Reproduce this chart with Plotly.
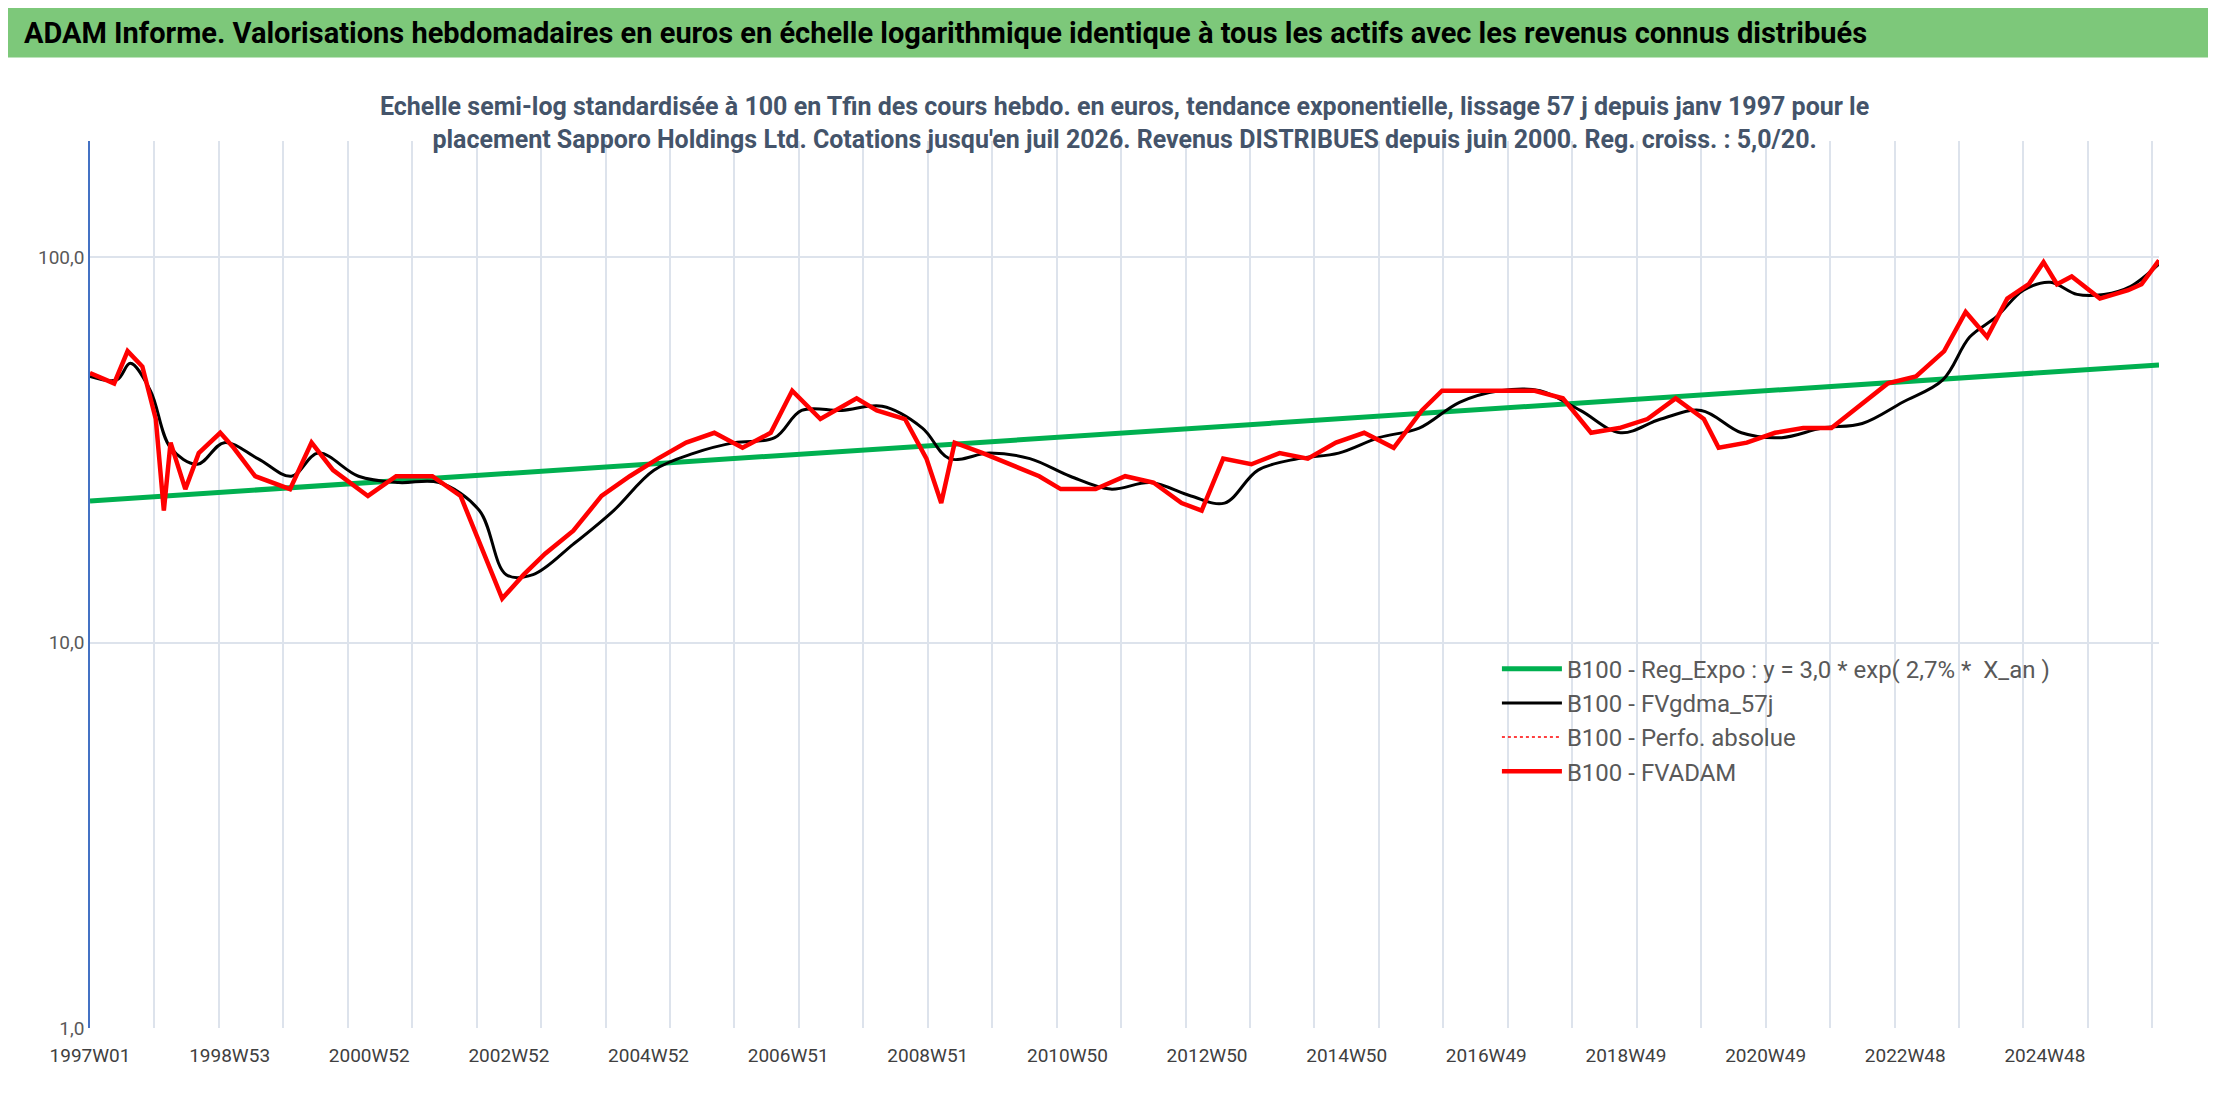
import plotly.graph_objs as go

# week index since 1997W01 and values (base 100 at end)
weeks = [0, 18, 28, 39, 49, 55, 60, 71, 81, 97, 107, 123, 149, 165, 181, 207, 228, 255, 276, 297,
         307, 323, 339, 360, 381, 402, 423, 444, 465, 486, 507, 523, 544, 571, 586, 607, 623, 634, 644, 665,
         686, 707, 723, 749, 771, 792, 813, 828, 844, 865, 886, 907, 928, 949, 971, 992, 1007, 1023, 1044, 1076,
         1097, 1118, 1139, 1160, 1181, 1202, 1213, 1234, 1255, 1276, 1297, 1318, 1339, 1360, 1381, 1397, 1413, 1428, 1444, 1455,
         1465, 1476, 1497, 1518, 1528, 1541]
fvadam = [50, 47, 57, 52, 38, 22, 33, 25, 31, 35, 32, 27, 25, 33, 28, 24, 27, 27, 24, 16,
          13, 15, 17, 19.5, 24, 27, 30, 33, 35, 32, 35, 45, 38, 43, 40, 38, 30, 23, 33, 31,
          29, 27, 25, 25, 27, 26, 23, 22, 30, 29, 31, 30, 33, 35, 32, 40, 45, 45, 45, 45,
          43, 35, 36, 38, 43, 38, 32, 33, 35, 36, 36, 41, 47, 49, 57, 72, 62, 78, 85, 97,
          85, 89, 78, 82, 85, 98]

weeks_smooth = [0, 20, 30, 45, 60, 80, 100, 125, 150, 170, 200, 230, 260, 290, 310, 330, 360, 390, 420, 450,
                480, 510, 530, 560, 590, 620, 640, 670, 700, 730, 760, 790, 820, 845, 870, 900, 930, 960, 990, 1020,
                1050, 1080, 1110, 1140, 1170, 1200, 1230, 1260, 1290, 1320, 1350, 1380, 1400, 1420, 1440, 1460, 1480, 1500, 1520, 1541]
fvgdma = [49, 48, 53, 45, 32, 29, 33, 30, 27, 31, 27, 26, 26, 22, 15, 15, 18, 22, 28, 31,
          33, 34, 40, 40, 41, 36, 30, 31, 30, 27, 25, 26, 24, 23, 28, 30, 31, 34, 36, 42,
          45, 45, 40, 35, 38, 40, 35, 34, 36, 37, 42, 48, 62, 70, 82, 86, 80, 80, 84, 96]

reg_weeks = [0, 1541]
reg_expo = [23.3, 52.5]

tick_weeks = [0, 104, 208, 312, 416, 520, 624, 728, 832, 936, 1040, 1144, 1248, 1352, 1456]
tick_labels = ['1997W01', '1998W53', '2000W52', '2002W52', '2004W52', '2006W51', '2008W51', '2010W50',
               '2012W50', '2014W50', '2016W49', '2018W49', '2020W49', '2022W48', '2024W48']

font = 'Roboto, sans-serif'

data = [
    go.Scatter(x=reg_weeks, y=reg_expo, mode='lines', line=dict(color='#00B050', width=5),
               name='B100 - Reg_Expo : y = 3,0 * exp( 2,7% *  X_an )'),
    go.Scatter(x=weeks_smooth, y=fvgdma, mode='lines', line=dict(color='black', width=3, shape='spline'),
               name='B100 - FVgdma_57j'),
    go.Scatter(x=weeks, y=fvadam, mode='lines', line=dict(color='#FF0000', width=1.5, dash='dot'),
               name='B100 - Perfo. absolue'),
    go.Scatter(x=weeks, y=fvadam, mode='lines', line=dict(color='#FF0000', width=4.5),
               name='B100 - FVADAM'),
]

layout = go.Layout(
    width=2216, height=1102,
    paper_bgcolor='white', plot_bgcolor='white',
    font=dict(family=font, color='#595959'),
    margin=dict(l=82, r=65, t=133, b=82),
    xaxis=dict(range=[0, 1541], tickvals=tick_weeks, ticktext=tick_labels, showgrid=False,
               tickfont=dict(size=19, color='#404040'), zeroline=False, ticks='', ticklabelstandoff=14,
               minor=dict(tick0=0, dtick=48, showgrid=True, gridcolor='#DDE3EC', gridwidth=1.5)),
    yaxis=dict(type='log', range=[0, 2.301], tickvals=[1, 10, 100], ticktext=['1,0', '10,0', '100,0'],
               showgrid=True, gridcolor='#DDE3EC', gridwidth=2, showline=True, linecolor='#4472C4',
               linewidth=1.5, tickfont=dict(size=19, color='#595959'), zeroline=False),
    legend=dict(x=0.68, y=0.43, xanchor='left', yanchor='top', font=dict(size=24, color='#595959'),
                bgcolor='rgba(255,255,255,0)', tracegroupgap=0, itemwidth=60),
    showlegend=True,
    shapes=[
        dict(type='rect', xref='paper', yref='paper', x0=-0.05, x1=1.04, y0=1.094, y1=1.15,
             fillcolor='#7DC87A', line=dict(width=0), layer='below'),
    ],
    annotations=[
        dict(text='<b>ADAM Informe. Valorisations hebdomadaires en euros en échelle logarithmique identique à tous les actifs avec les revenus connus distribués</b>',
             xref='paper', yref='paper', x=-0.033, y=1.122, xanchor='left', yanchor='middle', showarrow=False,
             font=dict(size=29, color='black', family=font)),
        dict(text="<b>Echelle semi-log standardisée à 100 en Tfin des cours hebdo. en euros, tendance exponentielle, lissage 57 j depuis janv 1997 pour le<br>placement Sapporo Holdings Ltd. Cotations jusqu'en juil 2026. Revenus DISTRIBUES depuis juin 2000. Reg. croiss. : 5,0/20.</b>",
             xref='paper', yref='paper', x=0.5, y=1.02, xanchor='center', yanchor='middle', showarrow=False,
             font=dict(size=25, color='#44546A', family=font), align='center'),
    ],
)

fig = go.Figure(data=data, layout=layout)
fig.write_html('out.html')
